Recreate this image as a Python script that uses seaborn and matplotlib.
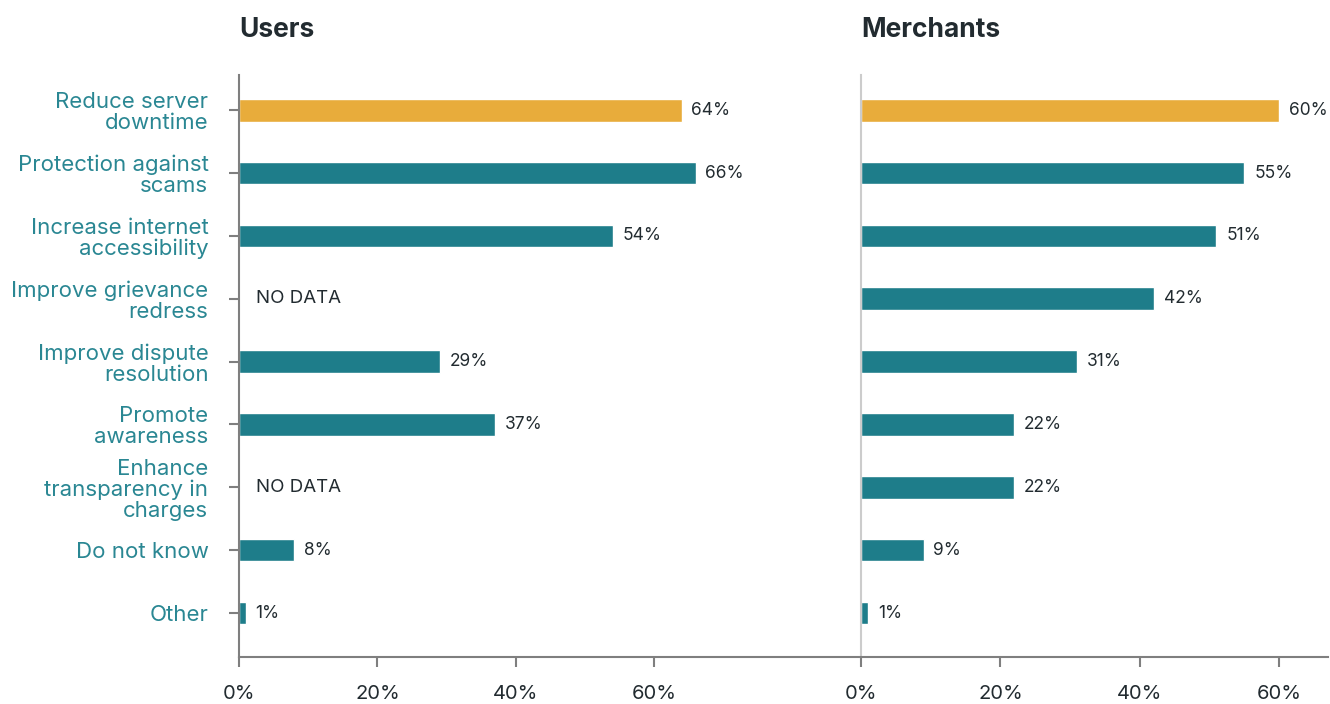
import numpy as np
import pandas as pd
import matplotlib
matplotlib.use("Agg")
import matplotlib.pyplot as plt
import seaborn as sns

categories = [
    "Reduce server\ndowntime",
    "Protection against\nscams",
    "Increase internet\naccessibility",
    "Improve grievance\nredress",
    "Improve dispute\nresolution",
    "Promote\nawareness",
    "Enhance\ntransparency in\ncharges",
    "Do not know",
    "Other",
]
users_values = [64, 66, 54, np.nan, 29, 37, np.nan, 8, 1]
merchants_values = [60, 55, 51, 42, 31, 22, 22, 9, 1]
highlight = ["yes", "no", "no", "no", "no", "no", "no", "no", "no"]
x_ticks = [0, 20, 40, 60]
x_tick_labels = ["0%", "20%", "40%", "60%"]
panel_titles = ["Users", "Merchants"]

TEAL = "#1e7d8a"
GOLD = "#e8ac3b"
LABEL_TEAL = "#2a8793"
DARK = "#222b30"
AXIS_GRAY = "#7f7f7f"

sns.set_style("white")
plt.rcParams["font.family"] = ["Inter", "DejaVu Sans"]

fig = plt.figure(figsize=(13.3, 7.04), dpi=100)
ax_u = fig.add_axes([239 / 1330, 47 / 704, 622 / 1330, 582 / 704])
ax_m = fig.add_axes([861 / 1330, 47 / 704, 467 / 1330, 582 / 704])

palette = {"yes": GOLD, "no": TEAL}
panels = [(ax_u, users_values, 89.9), (ax_m, merchants_values, 67.0)]

for i, (ax, vals, xmax) in enumerate(panels):
    df = pd.DataFrame({"category": categories, "value": vals, "hl": highlight})
    sns.barplot(data=df, x="value", y="category", hue="hl", palette=palette,
                orient="h", width=0.36, dodge=False, legend=False, ax=ax,
                saturation=1)
    ax.set_xlim(0, xmax)
    ax.set_ylim(8.7, -0.56)
    ax.set_xlabel("")
    ax.set_ylabel("")
    ax.set_xticks(x_ticks)
    ax.set_xticklabels(x_tick_labels)
    ax.tick_params(axis="x", direction="out", length=7, width=1.5,
                   color=AXIS_GRAY, pad=13, labelsize=14.5, labelcolor=DARK,
                   bottom=True)
    for side in ["top", "right"]:
        ax.spines[side].set_visible(False)
    ax.spines["bottom"].set_color(AXIS_GRAY)
    ax.spines["bottom"].set_linewidth(1.5)

    for j, v in enumerate(vals):
        if np.isnan(v):
            ax.text(2.5, j, "NO DATA", va="center", ha="left",
                    fontsize=13.5, color=DARK)
        else:
            ax.text(v + 1.4, j, f"{v:.0f}%", va="center", ha="left",
                    fontsize=12.5, color=DARK)

    ax.text(0, (75 - 37) / 582 + 1, panel_titles[i], transform=ax.transAxes,
            fontsize=19, fontweight="bold", color=DARK, ha="left",
            va="baseline")

# Left panel: category labels with tick marks
ax_u.spines["left"].set_color(AXIS_GRAY)
ax_u.spines["left"].set_linewidth(1.5)
ax_u.set_yticks(range(len(categories)))
ax_u.set_yticklabels(categories, multialignment="right", linespacing=1.05)
ax_u.tick_params(axis="y", direction="out", length=7, width=1.5,
                 color=AXIS_GRAY, pad=15, labelsize=16, labelcolor=LABEL_TEAL,
                 left=True)

# Right panel: light divider, no category labels
ax_m.spines["left"].set_color("#cccccc")
ax_m.spines["left"].set_linewidth(1.5)
ax_m.set_yticks([])

fig.savefig("out.png", dpi=100, facecolor="white")
